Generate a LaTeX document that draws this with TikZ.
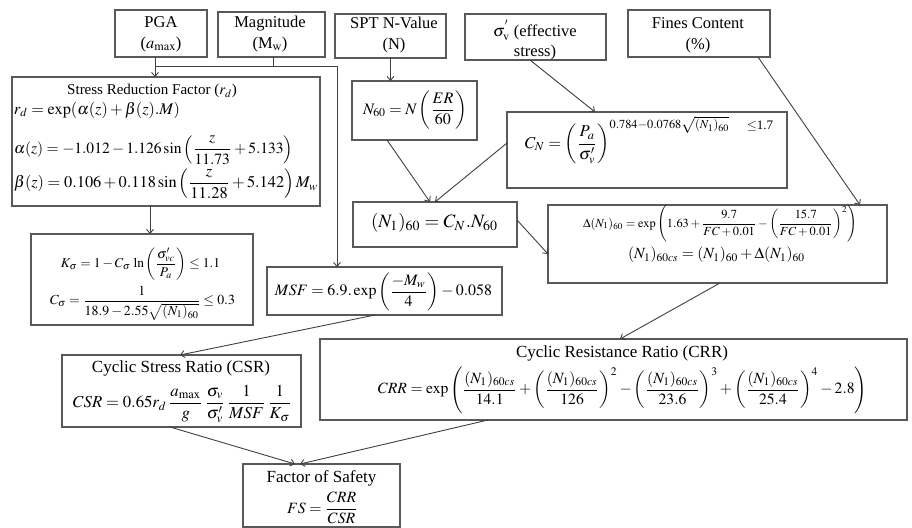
\documentclass[tikz,border=0pt]{standalone}
\usepackage{mathptmx}
\usepackage[no-math]{fontspec}
\setmainfont{Liberation Serif}
\newfontfamily\tnr{Liberation Serif}
\usepackage{graphicx}
\usetikzlibrary{arrows.meta}
\definecolor{boxc}{gray}{0.35}
\definecolor{linec}{gray}{0.25}
\newcommand{\fz}[2]{\tnr\fontsize{#1}{#2}\selectfont}
\newcommand{\rbx}[2]{\resizebox{#1pt}{!}{$\displaystyle #2$}}
\tikzset{
  box/.style={draw=boxc, line width=1.1pt, anchor=north west, inner sep=0pt, outer sep=0pt},
  txt/.style={inner sep=0pt, outer sep=0pt, text=black, font=\tnr},
  arr/.style={draw=linec, line width=0.9pt, -{Straight Barb[length=4pt,width=7pt]}},
  ln/.style={draw=linec, line width=0.9pt},
}
\begin{document}
\begin{tikzpicture}[x=1pt,y=-1pt]
\useasboundingbox (0,0) rectangle (912,527);
\fill[white] (0,0) rectangle (912,527);

% ---- boxes
\node[box, minimum width=92pt,  minimum height=47pt] (pga)    at (115,10) {};
\node[box, minimum width=107pt, minimum height=45pt] (mag)    at (218,12) {};
\node[box, minimum width=111pt, minimum height=44pt] (spt)    at (335,14) {};
\node[box, minimum width=141pt, minimum height=46pt] (sig)    at (465,14) {};
\node[box, minimum width=142pt, minimum height=47pt] (fines)  at (628,10) {};
\node[box, minimum width=308pt, minimum height=129pt] (stress) at (12,77) {};
\node[box, minimum width=125pt, minimum height=59pt] (n60)    at (352,81) {};
\node[box, minimum width=280pt, minimum height=76pt] (cn)     at (507,112) {};
\node[box, minimum width=164pt, minimum height=45pt] (n160)   at (353,202) {};
\node[box, minimum width=339pt, minimum height=78pt] (delta)  at (548,205) {};
\node[box, minimum width=222pt, minimum height=91pt] (ks)     at (31,234) {};
\node[box, minimum width=235pt, minimum height=48pt] (msf)    at (267,267) {};
\node[box, minimum width=239pt, minimum height=72pt] (csr)    at (62,355) {};
\node[box, minimum width=587pt, minimum height=81pt] (crr)    at (320,339) {};
\node[box, minimum width=157pt, minimum height=63pt] (fs)     at (243,464) {};

% ---- top box texts
\node[txt, align=center, font=\fz{16.5}{21}] (pgat) at (161,34) {PGA\\($a_{\max}$)};
\node[txt, align=center, font=\fz{16.5}{21}] (magt) at (270,34) {Magnitude\\(M$_{\mathrm{w}}$)};
\node[txt, align=center, font=\fz{16.5}{21}] (sptt) at (394,35) {SPT N-Value\\(N)};
\node[txt, align=center, font=\fz{16.5}{20}] (sigt) at (535,40) {$\sigma_{\mathrm{v}}^{'}$ (effective\\stress)};
\node[txt, align=center, font=\fz{16.5}{21}] (finest) at (698,35) {Fines Content\\(\%)};

% ---- stress reduction factor
\node[txt, font=\fz{15}{18}] (srt) at (152,91) {Stress Reduction Factor ($r_d$)};
\node[txt, anchor=west] (sr1) at (14,110) {\rbx{166}{r_d=\exp(\alpha(z)+\beta(z).M)}};
\node[txt, anchor=west] (sr2) at (14,150) {\rbx{279}{\alpha(z)=-1.012-1.126\sin\left(\frac{z}{11.73}+5.133\right)}};
\node[txt, anchor=west] (sr3) at (14,184) {\rbx{304}{\beta(z)=0.106+0.118\sin\left(\frac{z}{11.28}+5.142\right)M_w}};

% ---- K sigma
\node[txt] (ks1) at (140.5,264) {\rbx{159}{K_\sigma=1-C_\sigma\,\ln\left(\frac{\sigma'_{vc}}{P_a}\right)\le 1.1}};
\node[txt] (ks2) at (142.5,303) {\rbx{185}{C_\sigma=\frac{1}{18.9-2.55\sqrt{(N_1)_{60}}}\le 0.3}};

% ---- MSF
\node[txt] (msft) at (383.5,292) {\rbx{217}{MSF=6.9.\exp\left(\frac{-M_w}{4}\right)-0.058}};

% ---- N60, CN, (N1)60
\node[txt] (n60t) at (415,110) {\rbx{104}{N_{60}=N\left(\frac{ER}{60}\right)}};
\node[txt, anchor=west] (cnt) at (525,140) {\rbx{205}{C_N=\left(\frac{P_a}{\sigma'_v}\right)^{0.784-0.0768\sqrt{(N_1)_{60}}}}};
\node[txt, font=\fz{13}{15}] (cnl) at (760,126) {$\le$1.7};
\node[txt] (n160t) at (434.5,223) {\rbx{127}{(N_1)_{60}=C_N.N_{60}}};

% ---- Delta
\node[txt] (d1) at (720,224) {\rbx{274}{\Delta(N_1)_{60}=\exp\left(1.63+\frac{9.7}{FC+0.01}-\left(\frac{15.7}{FC+0.01}\right)^2\right)}};
\node[txt] (d2) at (716.5,255) {\rbx{177}{(N_1)_{60cs}=(N_1)_{60}+\Delta(N_1)_{60}}};

% ---- CRR
\node[txt, font=\fz{17}{20}] (crrt) at (622,353) {Cyclic Resistance Ratio (CRR)};
\node[txt] (crrf) at (622.5,390) {\rbx{489}{CRR=\exp\left(\frac{(N_1)_{60cs}}{14.1}+\left(\frac{(N_1)_{60cs}}{126}\right)^2-\left(\frac{(N_1)_{60cs}}{23.6}\right)^3+\left(\frac{(N_1)_{60cs}}{25.4}\right)^4-2.8\right)}};

% ---- CSR
\node[txt, font=\fz{17}{20}] (csrt) at (181,368) {Cyclic Stress Ratio (CSR)};
\node[txt] (csrf) at (182.5,404) {\rbx{219}{CSR=0.65r_d\,\frac{a_{\max}}{g}\,\frac{\sigma_v}{\sigma'_v}\,\frac{1}{MSF}\,\frac{1}{K_\sigma}}};

% ---- FS
\node[txt, font=\fz{17}{20}] (fst) at (321.5,478) {Factor of Safety};
\node[txt] (fsf) at (322.5,508) {\rbx{71}{FS=\frac{CRR}{CSR}}};

% ---- connectors
\coordinate (j0) at (155,66);
\coordinate (j1) at (273,66);
\coordinate (j2) at (337,66);
\draw[arr] (pga.south -| j0) -- (stress.north -| j0);
\draw[ln] (mag.south -| j1) -- (j1);
\draw[ln] (j0) -- (j2);
\draw[arr] (j2) -- (msf.north -| j2);
\draw[arr] (spt.south) -- (spt.south |- n60.north);
\draw[arr] (sig.south -| 530,0) -- (cn.north -| 595,0);
\draw[arr] (fines.south -| 758,0) -- (delta.north -| 860,0);
\draw[arr] (n60.south -| 387,0) -- (n160.north -| 430,0);
\draw[arr] (cn.west |- 0,143) -- (n160.north -| 435,0);
\draw[arr] (stress.south -| 150,0) -- (ks.north -| 150,0);
\draw[arr] (n160.east |- 0,220) -- (delta.west |- 0,254);
\draw[arr] (delta.south -| 720,0) -- (crr.north -| 620,0);
\draw[arr] (msf.south -| 375,0) -- (csr.north -| 180,0);
\draw[arr] (csr.south -| 170,0) -- (fs.north -| 295,0);
\draw[arr] (crr.south -| 488,0) -- (fs.north -| 300,0);
\end{tikzpicture}
\end{document}
